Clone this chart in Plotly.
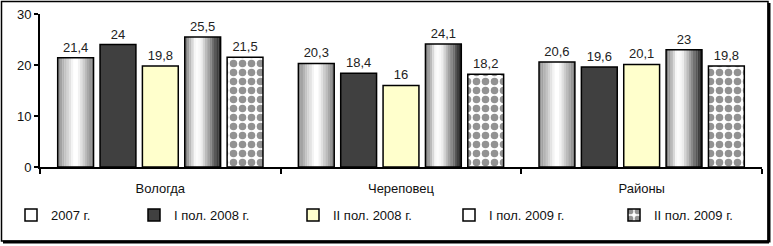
import plotly.graph_objects as go

categories = ["Вологда", "Череповец", "Районы"]
series_names = ["2007 г.", "I пол. 2008 г.", "II пол. 2008 г.", "I пол. 2009 г.", "II пол. 2009 г."]
v2007 = [21.4, 20.3, 20.6]
v2008_1 = [24, 18.4, 19.6]
v2008_2 = [19.8, 16, 20.1]
v2009_1 = [25.5, 24.1, 23]
v2009_2 = [21.5, 18.2, 19.8]
series_values = [v2007, v2008_1, v2008_2, v2009_1, v2009_2]

W, H = 773, 246
ML, MR, MT, MB = 40, 11, 14, 79
PW = W - ML - MR
PH = H - MT - MB

BAR_W = 0.149
GAP = 0.027
TOTAL = 5 * BAR_W + 4 * GAP
FONT = "Liberation Sans"

def hexrgb(h):
    h = h.lstrip("#")
    return tuple(int(h[i:i + 2], 16) for i in (0, 2, 4))

def grad(stops, t):
    for (t0, c0), (t1, c1) in zip(stops, stops[1:]):
        if t0 <= t <= t1:
            f = (t - t0) / (t1 - t0) if t1 > t0 else 0
            a, b = hexrgb(c0), hexrgb(c1)
            return "rgb(%d,%d,%d)" % tuple(round(a[i] + (b[i] - a[i]) * f) for i in range(3))
    return stops[-1][1]

gradients = {
    0: [(0, "#8a8a8a"), (0.45, "#ffffff"), (0.55, "#ffffff"), (1, "#7a7a7a")],
    3: [(0, "#707070"), (0.3, "#ffffff"), (0.45, "#f4f4f4"), (1, "#1a1a1a")],
}
solid = {1: "#404040", 2: "#ffffcc", 4: "white"}

fig = go.Figure()
NSTRIP = 16
for j, vals in enumerate(series_values):
    start = -TOTAL / 2 + j * (BAR_W + GAP)
    if j in gradients:
        sw = BAR_W / NSTRIP
        for m in range(NSTRIP):
            t = (m + 0.5) / NSTRIP
            fig.add_trace(go.Bar(
                x=categories, y=vals, offset=start + m * sw, width=sw * 1.08,
                marker=dict(color=grad(gradients[j], t), line=dict(width=0)),
                showlegend=False, hoverinfo="skip"))

labels_legend = ["legend", "legend2", "legend3", "legend4", "legend5"]
for j, vals in enumerate(series_values):
    start = -TOTAL / 2 + j * (BAR_W + GAP)
    marker = dict(line=dict(color="black", width=1.5))
    if j in gradients:
        marker["color"] = "rgba(255,255,255,0)"
    else:
        marker["color"] = solid[j]
    if j == 4:
        marker["pattern"] = dict(shape=".", fgcolor="#262626", bgcolor="white",
                                 size=9, solidity=0.55, fillmode="overlay")
    fig.add_trace(go.Bar(
        x=categories, y=vals, name=series_names[j], offset=start, width=BAR_W,
        marker=marker,
        text=[("%g" % v).replace(".", ",") for v in vals],
        textposition="outside", cliponaxis=False,
        textfont=dict(size=13, color="#222222", family=FONT),
        legend=labels_legend[j], hoverinfo="skip"))

sym_centers = [40, 163, 322, 478, 643]
legend_layout = {}
for j, key in enumerate(labels_legend):
    legend_layout[key] = dict(
        x=(sym_centers[j] - 20 - 9 - ML) / PW, xanchor="left",
        y=(MT + PH - 215) / PH, yanchor="middle",
        orientation="h", bgcolor="rgba(0,0,0,0)",
        font=dict(size=13, color="#111111", family=FONT),
        itemwidth=30)

def px(x):
    return (x - ML) / PW

def py(y):
    return (MT + PH - y) / PH

shapes = [
    dict(type="rect", xref="paper", yref="paper", x0=px(1.5), x1=px(768), y0=py(1.5), y1=py(241),
         line=dict(color="black", width=1.5), fillcolor="rgba(0,0,0,0)", layer="above"),
    dict(type="line", xref="paper", yref="paper", x0=px(769), x1=px(769), y0=py(3), y1=py(242.5),
         line=dict(color="black", width=3)),
    dict(type="line", xref="paper", yref="paper", x0=px(3), x1=px(769), y0=py(242), y1=py(242),
         line=dict(color="black", width=3)),
]

fig.update_layout(
    width=W, height=H,
    margin=dict(l=ML, r=MR, t=MT, b=MB, pad=0, autoexpand=False),
    barmode="overlay",
    plot_bgcolor="white", paper_bgcolor="white",
    font=dict(family=FONT, size=13, color="#111111"),
    shapes=shapes,
    **legend_layout,
)
fig.update_yaxes(range=[0, 30], dtick=10, showgrid=False, zeroline=False,
                 showline=True, linecolor="black", linewidth=2,
                 ticks="outside", ticklen=4, tickwidth=2, tickcolor="black",
                 tickfont=dict(size=13, family=FONT, color="#111111"))
fig.update_xaxes(showgrid=False, showline=True, linecolor="black", linewidth=2,
                 ticks="outside", tickson="boundaries", ticklen=5, tickwidth=1.5,
                 tickcolor="black", range=[-0.5, 2.5], ticklabelstandoff=8,
                 tickfont=dict(size=13, family=FONT, color="#111111"))

fig.write_html("out.html", config={"displayModeBar": False},
               post_script="document.body.style.margin='0';document.body.style.overflow='hidden';")
